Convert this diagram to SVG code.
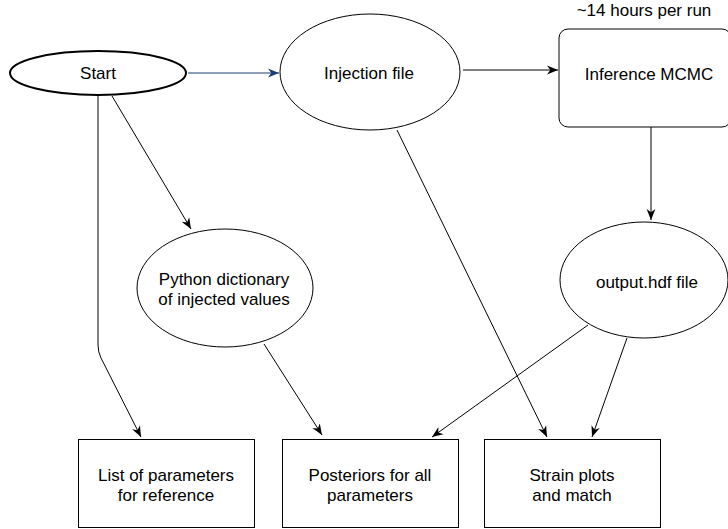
<svg xmlns="http://www.w3.org/2000/svg" width="728" height="529" viewBox="0 0 728 529">
<style>
.n{fill:#fff;stroke:#000;stroke-width:1}
.t{font-family:"Liberation Sans",Arial,sans-serif;font-size:17px;fill:#000;text-anchor:middle}
.c{fill:none;stroke:#000;stroke-width:1}
</style>
<defs>
<marker id="a" viewBox="0 0 10 10" refX="10" refY="5" markerWidth="11" markerHeight="11" markerUnits="userSpaceOnUse" orient="auto">
<path d="M0,1 L10,5 L0,9 L3,5 z" fill="#000"/>
</marker>
<marker id="ab" viewBox="0 0 10 10" refX="10" refY="5" markerWidth="11" markerHeight="11" markerUnits="userSpaceOnUse" orient="auto">
<path d="M0,1 L10,5 L0,9 L3,5 z" fill="#1b3f73"/>
</marker>
</defs>
<rect width="728" height="529" fill="#fff"/>
<g id="connectors">
<path class="c" d="M188,73 L279,73" style="stroke:#1b3f73" marker-end="url(#ab)"/>
<path class="c" d="M463,70 L558,70" marker-end="url(#a)"/>
<path class="c" d="M651,127 L651,220" marker-end="url(#a)"/>
<path class="c" d="M98,96 L98,345 Q98,352 101,358 L141,437" marker-end="url(#a)"/>
<path class="c" d="M112,96 L191,229" marker-end="url(#a)"/>
<path class="c" d="M264,344 L322,435" marker-end="url(#a)"/>
<path class="c" d="M588,325 L432,437" marker-end="url(#a)"/>
<path class="c" d="M397,130 L547,437" marker-end="url(#a)"/>
<path class="c" d="M627,338 L592,437" marker-end="url(#a)"/>
</g>
<g id="start">
<ellipse cx="98" cy="73" rx="88" ry="22" fill="#fff" stroke="#000" stroke-width="2"/>
<text class="t" x="98" y="79">Start</text>
</g>
<g id="injection">
<ellipse class="n" cx="370" cy="72" rx="90" ry="58"/>
<text class="t" x="369" y="79">Injection file</text>
</g>
<g id="inference">
<rect class="n" x="559" y="29" width="172" height="98" rx="9"/>
<text class="t" x="649" y="80">Inference MCMC</text>
<text class="t" x="644" y="16">~14 hours per run</text>
</g>
<g id="python">
<ellipse class="n" cx="225" cy="288" rx="88" ry="59"/>
<text class="t" x="224" y="285">Python dictionary</text>
<text class="t" x="224" y="305">of injected values</text>
</g>
<g id="output">
<ellipse class="n" cx="644" cy="280" rx="84" ry="58"/>
<text class="t" x="647" y="288">output.hdf file</text>
</g>
<g id="list">
<rect class="n" x="78.5" y="439.5" width="176" height="88"/>
<text class="t" x="166" y="481">List of parameters</text>
<text class="t" x="166" y="501">for reference</text>
</g>
<g id="posteriors">
<rect class="n" x="282.5" y="439.5" width="176" height="88"/>
<text class="t" x="370" y="481">Posteriors for all</text>
<text class="t" x="370" y="501">parameters</text>
</g>
<g id="strain">
<rect class="n" x="484.5" y="439.5" width="176" height="88"/>
<text class="t" x="572" y="481">Strain plots</text>
<text class="t" x="572" y="501">and match</text>
</g>
</svg>
